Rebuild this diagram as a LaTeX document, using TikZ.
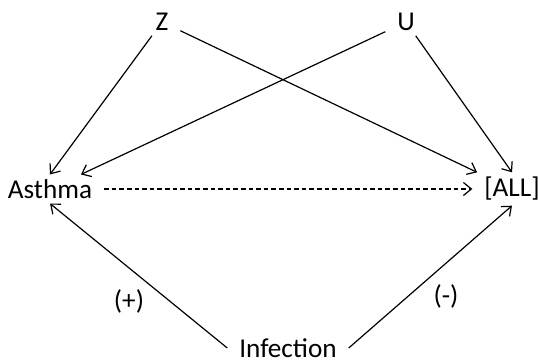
\documentclass[tikz,border=0pt]{standalone}
\usepackage{fontspec}
\setmainfont{Carlito}
\usetikzlibrary{arrows.meta}

\begin{document}
\begin{tikzpicture}[x=0.5pt,y=-0.5pt,font=\fontsize{13.6}{15}\selectfont,
          var/.style={inner xsep=6pt,inner ysep=2.5pt,outer sep=0pt},
          effect/.style={-{Straight Barb[length=4pt,width=6.5pt]},line width=0.6pt},
          hypo/.style={effect,dash pattern=on 2.3pt off 1.5pt}]
        \useasboundingbox (0,0) rectangle (539,362);

        \node[var] (z) at (162,22) {Z};
        \node[var] (u) at (406,22) {U};
        \node[var] (asthma) at (50,189) {Asthma};
        \node[var] (all) at (512,189) {[ALL]};
        \node[var] (infection) at (288,348) {Infection};

        \draw[effect] (z) -- (asthma.north);
        \draw[effect] (z) -- (all);
        \draw[effect] (u) -- (asthma);
        \draw[effect] (u) -- (all.north);
        \draw[hypo] (asthma) -- (all);
        \draw[effect] (infection.west) -- (asthma.south);
        \draw[effect] (infection.east) -- (all.south);

        \node (plus) at (129,301) {(+)};
        \node (minus) at (446,296) {(-)};
      \end{tikzpicture}
\end{document}
